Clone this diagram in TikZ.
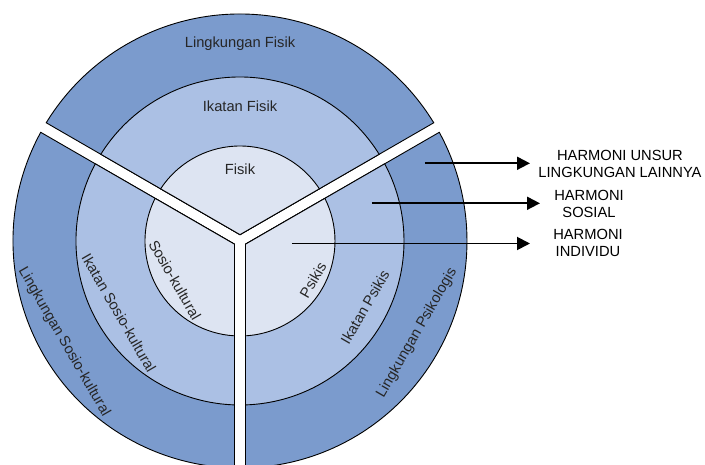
\documentclass[tikz,border=0pt]{standalone}
\usepackage{fontspec}
\setmainfont{Liberation Sans}
\usetikzlibrary{arrows.meta}
\definecolor{ringA}{HTML}{7B9BCD}
\definecolor{ringB}{HTML}{ABC0E4}
\definecolor{ringC}{HTML}{DDE4F2}
\newcommand\gapd{6.35}
% #1 bisector angle, #2 radius, #3 fill colour
\newcommand\ringsector[3]{%
  \pgfmathsetmacro\sectt{(-\gapd+2*#2*sqrt(1-0.75*(\gapd/#2)*(\gapd/#2)))/2}%
  \pgfmathsetmacro\secta{atan2(0.8660254*\sectt, \gapd+0.5*\sectt)}%
  \pgfmathsetmacro\secs{#1-\secta}%
  \pgfmathsetmacro\sece{#1+\secta}%
  \filldraw[ringline, fill=#3] (#1:\gapd) -- (\secs:#2) arc[start angle=\secs, end angle=\sece, radius=#2] -- cycle;%
}
\begin{document}
\begin{tikzpicture}[x=1pt,y=1pt,
  ringline/.style={draw=black, line width=0.9pt, line join=miter},
  lbl/.style={font=\fontsize{14.7}{17.5}\selectfont, inner sep=0pt, text=black!85},
  rlbl/.style={font=\fontsize{14.7}{17.5}\selectfont, inner sep=0pt, align=center, text=black},
  harrow/.style={line width=1.9pt, -{Triangle[length=13pt,width=13pt]}}]
\useasboundingbox (-240,-224) rectangle (465,241);
% sectors
\foreach \b in {90,210,330}{
  \ringsector{\b}{227}{ringA}
  \ringsector{\b}{164}{ringB}
  \ringsector{\b}{95}{ringC}
}
% top sector labels
\node[lbl, anchor=base] (lf) at (0,193) {Lingkungan Fisik};
\node[lbl, anchor=base] (ikf) at (0,129.5) {Ikatan Fisik};
\node[lbl, anchor=base] (fis) at (0,66) {Fisik};
% lower-left labels
\node[lbl, rotate=-60] (sk) at (-65,-39) {Sosio-kultural};
\node[lbl, rotate=-60] (iks) at (-121,-72) {Ikatan Sosio-kultural};
\node[lbl, rotate=-60] (ls) at (-176,-101) {Lingkungan Sosio-kultural};
% lower-right labels
\node[lbl, rotate=60] (ps) at (73,-39) {Psikis};
\node[lbl, rotate=60] (ikp) at (125,-66) {Ikatan Psikis};
\node[lbl, rotate=60] (lp) at (177,-92) {Lingkungan Psikologis};
% right labels
\node[rlbl] (h1) at (380,77.2) {HARMONI UNSUR\\LINGKUNGAN LAINNYA};
\node[rlbl] (h2) at (349,37.3) {HARMONI\\SOSIAL};
\node[rlbl] (h3) at (348,-2) {HARMONI\\INDIVIDU};
% arrows
\coordinate (s1) at (185,77.7);
\coordinate (e1) at (290,77.7);
\coordinate (s2) at (132,37.7);
\coordinate (e2) at (300,37.7);
\coordinate (s3) at (52,-2.5);
\coordinate (e3) at (290,-2.5);
\draw[harrow] (s1) -- (e1);
\draw[harrow] (s2) -- (e2);
\draw[harrow] (s3) -- (e3);
\end{tikzpicture}
\end{document}
